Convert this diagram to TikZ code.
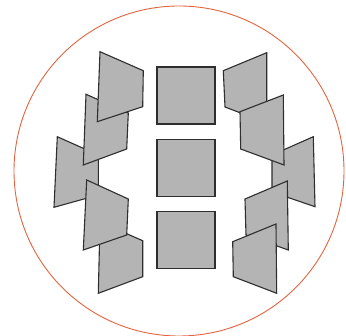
\documentclass[tikz,border=0pt]{standalone}
\usepackage{xcolor}
\definecolor{ringred}{HTML}{E2633F}
\definecolor{panelgray}{HTML}{B4B4B4}
\definecolor{edgedark}{HTML}{2E2E2E}
\usepackage{tikz}
\usetikzlibrary{positioning}

\begin{document}
\begin{tikzpicture}[
    x=1pt, y=-1pt,
    ring/.style={draw=ringred, line width=0.9pt},
    panel/.style={draw=edgedark, fill=panelgray, line width=1.1pt, line join=miter},
    frame/.style={rectangle, draw=edgedark, fill=panelgray, line width=1.1pt, minimum width=58pt, minimum height=57pt, inner sep=0pt},
]
    \useasboundingbox (0,0) rectangle (346,336);
    \draw[ring] (179,171) circle[radius=165pt];

    % center column
    \node[frame] (top) at (186,95.5) {};
    \node[frame, below=14pt of top] (mid) {};
    \node[frame, below=14pt of mid] (bot) {};

    % left panels, back to front
    \draw[panel] (57.3,136.7) -- (98.3,155) -- (98.3,195) -- (54,207.3) -- cycle;
    \draw[panel] (100,222) -- (142.7,240.7) -- (142.7,276.7) -- (98.3,293.3) -- cycle;
    \draw[panel] (86.7,180) -- (128.3,199) -- (126.7,235) -- (83.3,250) -- cycle;
    \draw[panel] (86,94.3) -- (128.3,113) -- (126.7,149) -- (83.3,165) -- cycle;
    \draw[panel] (100,51.7) -- (143.3,70.7) -- (142.7,106.7) -- (97.3,121.7) -- cycle;

    % right panels, back to front
    \draw[panel] (272,155) -- (313.3,136.7) -- (315,206.7) -- (272,192) -- cycle;
    \draw[panel] (223.3,70.7) -- (266.7,52.7) -- (266.7,123) -- (225,107) -- cycle;
    \draw[panel] (245,199) -- (287.3,181) -- (288.3,250) -- (246,235) -- cycle;
    \draw[panel] (240,111.7) -- (283.3,95) -- (284,165) -- (240.7,149) -- cycle;
    \draw[panel] (232.7,241.7) -- (276,224) -- (276.7,293.3) -- (233.3,276.7) -- cycle;
\end{tikzpicture}
\end{document}
